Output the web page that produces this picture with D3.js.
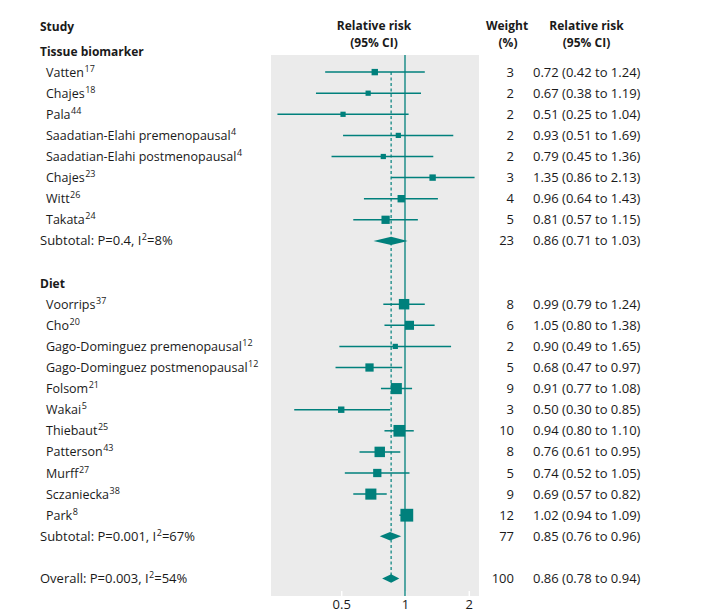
<!DOCTYPE html>
<html><head><meta charset="utf-8">
<script src="https://cdn.jsdelivr.net/npm/d3@7/dist/d3.min.js"></script>
<style>body{margin:0;background:#fff}svg text{font-family:"Open Sans",sans-serif;font-size:12px;fill:#1a1a1a}</style>
</head><body><svg id="c" width="704" height="614"></svg>
<script>
// ---- data ----
const groups = ["Tissue biomarker", "Diet"];
const studyNames = ["Vatten","Chajes","Pala","Saadatian-Elahi premenopausal","Saadatian-Elahi postmenopausal","Chajes","Witt","Takata",
  "Voorrips","Cho","Gago-Dominguez premenopausal","Gago-Dominguez postmenopausal","Folsom","Wakai","Thiebaut","Patterson","Murff","Sczaniecka","Park"];
const studyRefs = ["17","18","44","4","4","23","26","24","37","20","12","12","21","5","25","43","27","38","8"];
const studyGroup = [0,0,0,0,0,0,0,0,1,1,1,1,1,1,1,1,1,1,1];
const studyRR = [0.72,0.67,0.51,0.93,0.79,1.35,0.96,0.81,0.99,1.05,0.90,0.68,0.91,0.50,0.94,0.76,0.74,0.69,1.02];
const studyLo = [0.42,0.38,0.25,0.51,0.45,0.86,0.64,0.57,0.79,0.80,0.49,0.47,0.77,0.30,0.80,0.61,0.52,0.57,0.94];
const studyHi = [1.24,1.19,1.04,1.69,1.36,2.13,1.43,1.15,1.24,1.38,1.65,0.97,1.08,0.85,1.10,0.95,1.05,0.82,1.09];
const studyWeight = [3,2,2,2,2,3,4,5,8,6,2,5,9,3,10,8,5,9,12];
const subtotalLabels = ["Subtotal: P=0.4, I|2|=8%", "Subtotal: P=0.001, I|2|=67%"];
const subtotalRR = [0.86,0.85];
const subtotalLo = [0.71,0.76];
const subtotalHi = [1.03,0.96];
const subtotalWeight = [23,77];
const overallLabel = "Overall: P=0.003, I|2|=54%";
const overallRR = 0.86, overallLo = 0.78, overallHi = 0.94, overallWeight = 100;
const tickValues = [0.5, 1, 2];
const tickLabels = ["0.5", "1", "2"];

// ---- layout ----
const teal = "#00807c";
const svg = d3.select("#c");
const x = d3.scaleLog().domain([0.2331, 2.235]).range([271, 479]);
const rowH = 21.1, row0 = 51;
const yRow = i => row0 + i * rowH;
const size = d3.scaleSqrt().domain([0, 12]).range([0, 12.8]);
const fmt = d3.format(".2f");

// build row list
const rows = [];
let r = 0;
groups.forEach((g, gi) => {
  rows.push({type: "header", label: g, i: r++});
  studyNames.forEach((n, k) => {
    if (studyGroup[k] !== gi) return;
    rows.push({type: "study", label: n, ref: studyRefs[k], rr: studyRR[k], lo: studyLo[k], hi: studyHi[k], w: studyWeight[k], i: r++});
  });
  rows.push({type: "sub", label: subtotalLabels[gi], rr: subtotalRR[gi], lo: subtotalLo[gi], hi: subtotalHi[gi], w: subtotalWeight[gi], i: r++});
  r++; // blank
});
rows.push({type: "sub", label: overallLabel, rr: overallRR, lo: overallLo, hi: overallHi, w: overallWeight, i: r});
const lastI = r;

// panel
svg.append("rect").attr("x", 271).attr("y", 55).attr("width", 208).attr("height", 541).attr("fill", "#ebebeb");

// axis (ticks in white at panel bottom)
const axis = d3.axisBottom(x).tickValues(tickValues).tickFormat((d, i) => tickLabels[i]).tickSize(5).tickSizeOuter(0);
const ax = svg.append("g").attr("transform", "translate(0,591)").call(axis);
ax.select(".domain").remove();
ax.selectAll(".tick line").attr("stroke", "#fff").attr("stroke-width", 1.5);
ax.selectAll(".tick text").attr("y", 18).attr("dy", 0).style("font-size", "13px").style("font-family", "'Open Sans',sans-serif").attr("fill", "#1a1a1a");

// reference lines
svg.append("line").attr("x1", x(1)).attr("x2", x(1)).attr("y1", 55).attr("y2", 596).attr("stroke", teal).attr("stroke-width", 1.3);
svg.append("line").attr("x1", x(overallRR)).attr("x2", x(overallRR)).attr("y1", yRow(1)).attr("y2", yRow(lastI))
  .attr("stroke", teal).attr("stroke-width", 1.2).attr("stroke-dasharray", "3,2.5");

// headers
const hdr = svg.append("g").style("font-weight", "bold");
hdr.append("text").attr("x", 40).attr("y", 31).text("Study");
hdr.append("text").attr("x", 374).attr("y", 30).attr("text-anchor", "middle").text("Relative risk");
hdr.append("text").attr("x", 374).attr("y", 46.5).attr("text-anchor", "middle").text("(95% CI)");
hdr.append("text").attr("x", 507).attr("y", 30).attr("text-anchor", "middle").text("Weight");
hdr.append("text").attr("x", 508).attr("y", 46.5).attr("text-anchor", "middle").text("(%)");
hdr.append("text").attr("x", 586.5).attr("y", 30).attr("text-anchor", "middle").text("Relative risk");
hdr.append("text").attr("x", 586.5).attr("y", 46.5).attr("text-anchor", "middle").text("(95% CI)");

function addLabel(t, s) {
  const parts = s.split("|");
  parts.forEach((p, k) => {
    if (k % 2 === 1) t.append("tspan").attr("dy", -5).attr("dx", 0.5).style("font-size", "9px").text(p);
    else { const ts = t.append("tspan").text(p); if (k > 0) ts.attr("dy", 5); }
  });
}

rows.forEach(d => {
  const y = yRow(d.i);
  if (d.type === "header") {
    svg.append("text").attr("x", 40).attr("y", y + 4.5).style("font-weight", "bold").text(d.label);
    return;
  }
  if (d.type === "study") {
    const t = svg.append("text").attr("x", 46).attr("y", y + 4.5).style("font-size", "12.5px");
    addLabel(t, d.label + "|" + d.ref + "|");
    svg.append("line").attr("x1", x(d.lo)).attr("x2", x(d.hi)).attr("y1", y).attr("y2", y).attr("stroke", teal).attr("stroke-width", 1.5);
    const s = size(d.w);
    svg.append("rect").attr("x", x(d.rr) - s / 2).attr("y", y - s / 2).attr("width", s).attr("height", s).attr("fill", teal);
  } else {
    const t = svg.append("text").attr("x", 40).attr("y", y + 4.5).style("font-size", "13px");
    addLabel(t, d.label);
    const h = 4.2;
    svg.append("path").attr("d", `M${x(d.lo)},${y}L${x(d.rr)},${y - h}L${x(d.hi)},${y}L${x(d.rr)},${y + h}Z`).attr("fill", teal);
  }
  svg.append("text").attr("x", 514).attr("y", y + 4.5).attr("text-anchor", "end").style("font-size", "13px").text(d.w);
  svg.append("text").attr("x", 533).attr("y", y + 4.5).style("font-size", "13px").text(`${fmt(d.rr)} (${fmt(d.lo)} to ${fmt(d.hi)})`);
});
</script></body></html>
